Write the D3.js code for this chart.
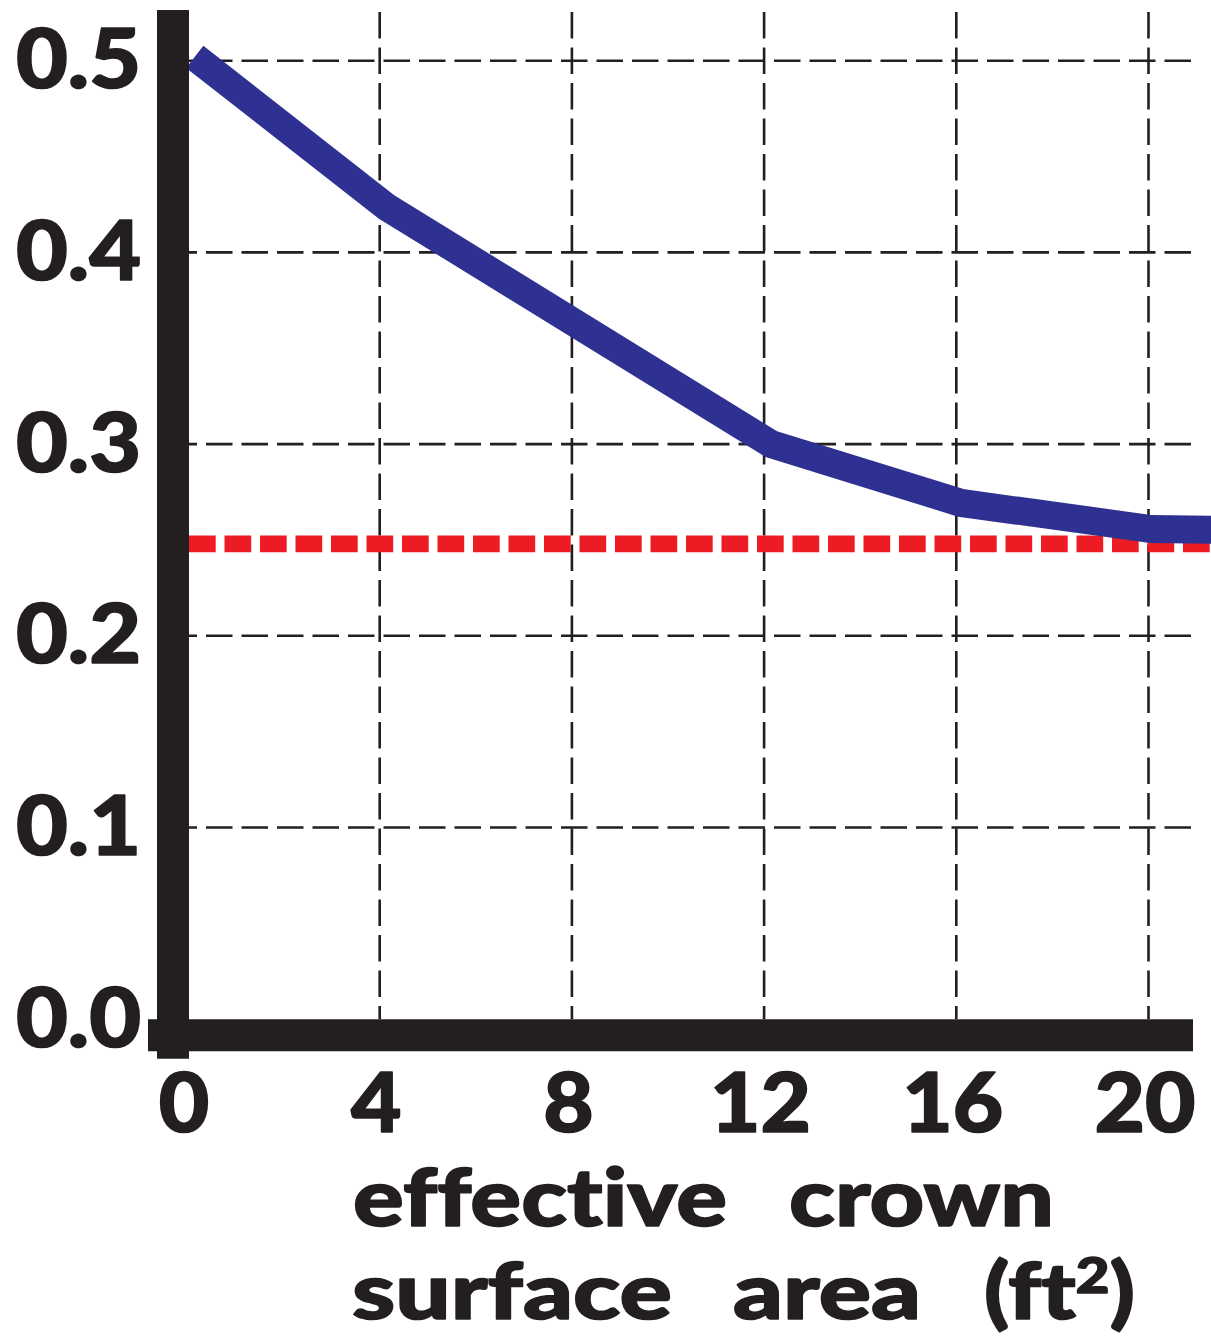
<!DOCTYPE html>
<html>
<head>
<meta charset="utf-8">
<script src="https://cdn.jsdelivr.net/npm/d3@7"></script>
<style>
  html, body { margin: 0; padding: 0; background: #fff; }
  svg { display: block; }
  text { font-family: Lato, Inter, "DejaVu Sans", sans-serif; font-weight: 900; fill: #231F20;
         stroke: #231F20; stroke-width: 1.6; stroke-linejoin: round;
         font-variant-ligatures: none; font-feature-settings: "liga" 0, "clig" 0, "dlig" 0; }
</style>
</head>
<body>
<svg id="chart" width="1211" height="1336"></svg>
<script>
// ---- data ----
const curveX = [0.15, 4.15, 12.15, 16.1, 20.05, 21.6];
const curveY = [0.502, 0.4236, 0.300, 0.2693, 0.2557, 0.2552];
const refLevel = [0.248];
const xTicks = [0, 4, 8, 12, 16, 20];
const yTicks = [0.0, 0.1, 0.2, 0.3, 0.4, 0.5];
const yTickLabels = ["0.0", "0.1", "0.2", "0.3", "0.4", "0.5"];
const xTickLabels = ["0", "4", "8", "12", "16", "20"];
const titleLine1 = ["effective", "crown"];
const titleLine2 = ["surface", "area", "(ft²)"];

// ---- layout ----
const svg = d3.select("#chart");
const x = d3.scaleLinear().domain([0, 20]).range([187.5, 1148.5]);
const y = d3.scaleLinear().domain([0, 0.5]).range([1019.2, 60.7]);
const ink = "#231F20";

// gridlines
const grid = svg.append("g");
grid.selectAll("line.h").data(yTicks.filter(d => d > 0)).join("line")
  .attr("x1", 1191).attr("x2", 189)
  .attr("y1", d => y(d)).attr("y2", d => y(d))
  .attr("stroke", ink).attr("stroke-width", 2.6)
  .attr("stroke-dasharray", "26.5 9");
grid.selectAll("line.v").data(xTicks.filter(d => d > 0)).join("line")
  .attr("x1", d => x(d)).attr("x2", d => x(d))
  .attr("y1", 12).attr("y2", y(0))
  .attr("stroke", ink).attr("stroke-width", 2.6)
  .attr("stroke-dasharray", "26.5 9");

// red dashed reference line
svg.selectAll("line.ref").data(refLevel).join("line")
  .attr("x1", 189).attr("x2", 1215)
  .attr("y1", d => y(d)).attr("y2", d => y(d))
  .attr("stroke", "#ED1C24").attr("stroke-width", 16.7)
  .attr("stroke-dasharray", "26.7 8.8");

// blue curve
const pts = curveX.map((v, i) => [v, curveY[i]]);
svg.append("path").datum(pts)
  .attr("d", d3.line().x(d => x(d[0])).y(d => y(d[1])))
  .attr("fill", "none").attr("stroke", "#2E3192")
  .attr("stroke-width", 28).attr("stroke-linejoin", "miter")
  .attr("stroke-linecap", "butt");

// thick axis bars
svg.append("line").attr("x1", 173).attr("x2", 173).attr("y1", 10).attr("y2", 1058.7)
  .attr("stroke", ink).attr("stroke-width", 32);
svg.append("line").attr("x1", 148).attr("x2", 1193).attr("y1", y(0) + 16).attr("y2", y(0) + 16)
  .attr("stroke", ink).attr("stroke-width", 32);

// y axis labels
const yAxis = d3.axisLeft(y).tickValues(yTicks).tickSize(0).tickPadding(0)
  .tickFormat((d, i) => yTickLabels[i]);
const gy = svg.append("g").attr("transform", "translate(141,0)").call(yAxis);
gy.select(".domain").remove();
gy.selectAll("text")
  .attr("dy", null).attr("y", 27)
  .attr("font-size", 82).attr("font-family", null)
  .attr("textLength", 125).attr("lengthAdjust", "spacingAndGlyphs")
  .style("fill", ink);

// x axis labels
const xAxis = d3.axisBottom(x).tickValues(xTicks).tickSize(0).tickPadding(0)
  .tickFormat((d, i) => xTickLabels[i]);
const gx = svg.append("g").attr("transform", "translate(-4,0)").call(xAxis);
gx.select(".domain").remove();
gx.selectAll("text")
  .attr("dy", null).attr("y", 1131.7)
  .attr("font-size", 82).attr("font-family", null)
  .attr("textLength", (d, i) => xTickLabels[i].length * 50.5)
  .attr("lengthAdjust", "spacingAndGlyphs")
  .style("fill", ink);

// axis title (two lines, word by word)
const line1Pos = [[353, 374], [789, 265]];
const line2Pos = [[352, 320], [733, 188], [984, 151]];
const t1 = svg.append("g");
t1.selectAll("text").data(titleLine1).join("text")
  .attr("x", (d, i) => line1Pos[i][0]).attr("y", 1226)
  .attr("font-size", 80)
  .attr("textLength", (d, i) => line1Pos[i][1]).attr("lengthAdjust", "spacingAndGlyphs")
  .text(d => d);
const t2 = svg.append("g");
t2.selectAll("text").data(titleLine2).join("text")
  .attr("x", (d, i) => line2Pos[i][0]).attr("y", 1319)
  .attr("font-size", 79)
  .attr("textLength", (d, i) => line2Pos[i][1]).attr("lengthAdjust", "spacingAndGlyphs")
  .each(function(d) {
    const sel = d3.select(this);
    const m = d.match(/^(.*)²(.*)$/);
    if (m) {
      sel.append("tspan").text(m[1]);
      sel.append("tspan").attr("font-size", 50).attr("dy", -26).text("2");
      sel.append("tspan").attr("dy", 26).text(m[2]);
    } else {
      sel.text(d);
    }
  });
</script>
</body>
</html>
